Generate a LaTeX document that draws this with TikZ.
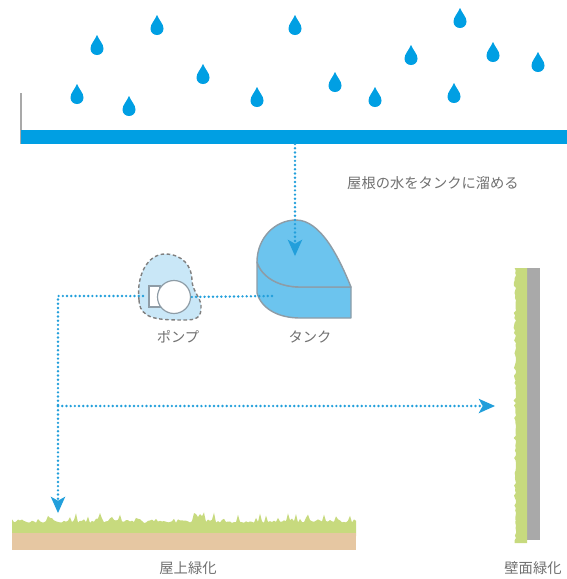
\documentclass[tikz,border=0pt]{standalone}
\usepackage{fontspec}
\newfontfamily\jpfont{Noto Sans CJK JP}
\usetikzlibrary{arrows.meta}

\definecolor{rainblue}{HTML}{009FE3}
\definecolor{pipeblue}{HTML}{229FDB}
\definecolor{tankblue}{HTML}{6CC4EE}
\definecolor{tankline}{HTML}{8E9CA6}
\definecolor{pumpfill}{HTML}{C9E7F7}
\definecolor{grassgreen}{HTML}{C7DA7E}
\definecolor{soil}{HTML}{E6C7A2}
\definecolor{wallgray}{HTML}{A9A9A9}
\definecolor{labelgray}{HTML}{707070}

\tikzset{
  pipe/.style={pipeblue, line width=2.3pt, line cap=round,
    dash pattern=on 0pt off 3.6pt},
  flow/.style={pipe, -{Stealth[length=14pt,width=12.5pt,inset=3.5pt,line width=0pt]}},
  caption/.style={font=\jpfont\fontsize{12.2}{14}\selectfont, text=labelgray, inner sep=1pt},
  drop/.pic={
    \fill[rainblue] (0,-10) .. controls (2,-5) and (6.5,-1) .. (6.5,3.5)
      .. controls (6.5,7.5) and (3.5,10) .. (0,10)
      .. controls (-3.5,10) and (-6.5,7.5) .. (-6.5,3.5)
      .. controls (-6.5,-1) and (-2,-5) .. cycle;
  }
}

\begin{document}
\begin{tikzpicture}[x=0.03cm, y=-0.03cm]
    \useasboundingbox (0,0) rectangle (567,579);
    % rain
    \foreach \px/\py in {97/45, 157/25, 295/25, 460/18, 411/55, 493/52, 538/62,
        203/74, 77/94, 129/106, 257/97, 335/82, 375/97, 454/93}
      \pic at (\px,\py) {drop};
    % roof and gutter
    \draw[wallgray, line width=1.2pt] (21,93) -- (21,144);
    \fill[rainblue] (21,130) rectangle (567,144);
    \coordinate (gutter) at (295,144);
    \node[caption] (lblroof) at (433,183) {屋根の水をタンクに溜める};
    % tank
    \begin{scope}[tankline, line width=1.2pt, line join=round, fill=tankblue]
      \filldraw (257,262) -- (257,293) .. controls (262,310) and (280,318) .. (300,318)
        -- (351,318) -- (351,287) -- (300,287)
        .. controls (280,287) and (262,278) .. cycle;
      \filldraw (257,262) .. controls (257,238) and (275,220) .. (296,220)
        .. controls (320,220) and (338,255) .. (351,287) -- (300,287)
        .. controls (280,287) and (262,278) .. cycle;
    \end{scope}
    \coordinate (tankin) at (295,256);
    \coordinate (tankout) at (272,296);
    \node[caption] (lbltank) at (310,337) {タンク};
    % pump
    \filldraw[pumpfill, draw=gray, line width=1.2pt, dash pattern=on 3pt off 2.2pt]
      (139,300) .. controls (136,275) and (148,254) .. (165,254)
      .. controls (182,254) and (192,266) .. (192,280)
      .. controls (192,290) and (200,297) .. (201,305)
      .. controls (202,318) and (196,320) .. (185,320)
      .. controls (170,320) and (155,320) .. (147,315)
      .. controls (141,311) and (139,306) .. cycle;
    \filldraw[fill=white, draw=tankline, line width=1pt] (149,286) rectangle (160,307);
    \node[circle, draw=tankline, fill=white, line width=1pt, minimum size=33*0.03cm,
      inner sep=0pt] (pump) at (174,297) {};
    \coordinate (pumpin) at (pump.east);
    \coordinate (pumpout) at (143,296);
    \node[caption] (lblpump) at (178,337) {ポンプ};
    % pipes
    \draw[flow] (gutter) -- (tankin);
    \draw[pipe] (tankout) -- (pumpin);
    \coordinate (corner) at (58,296);
    \coordinate (split) at (58,406);
    \coordinate (toroof) at (58,513);
    \coordinate (towall) at (495,406);
    \draw[pipe] (pumpout) -- (corner) -- (split);
    \draw[flow] (split) -- (toroof);
    \draw[flow] (split) -- (towall);
    % roof garden
    \pgfmathsetseed{11}
    \fill[grassgreen] (12,536) \foreach \gx in {12,14,...,356} {
        -- (\gx,{523-2*rnd-9*rnd^3}) } -- (356,536) -- cycle;
    \fill[soil] (12,533) rectangle (356,550);
    \node[caption] (lblgreenroof) at (188,568) {屋上緑化};
    % green wall
    \fill[wallgray] (527,268) rectangle (540,540);
    \fill[grassgreen] (527,268) \foreach \gy in {268,270.5,...,543} {
        -- ({516-2.5*rnd^2},\gy) } -- (527,543) -- cycle;
    \node[caption] (lblgreenwall) at (533,568) {壁面緑化};
\end{tikzpicture}
\end{document}
